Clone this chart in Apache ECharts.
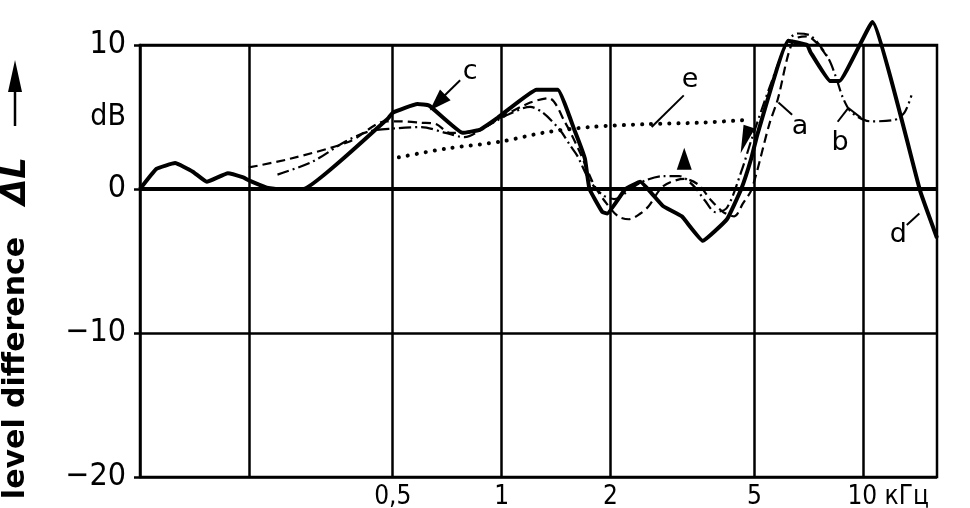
<!DOCTYPE html>
<html>
<head>
<meta charset="utf-8">
<script src="https://cdn.jsdelivr.net/npm/echarts@6/dist/echarts.min.js"></script>
<style>
  html, body { margin: 0; padding: 0; background: #fff; }
  #chart { width: 970px; height: 508px; }
</style>
</head>
<body>
<div id="chart"></div>
<script>
// frequency in kHz, level difference in dB
const curveC = [
  [0.1, 0], [0.111, 1.4], [0.125, 1.8], [0.14, 1.2], [0.153, 0.5], [0.175, 1.1],
  [0.193, 0.8], [0.2, 0.6], [0.224, 0.1], [0.24, 0], [0.283, 0], [0.485, 4.9],
  [0.5, 5.3], [0.585, 5.9], [0.63, 5.8], [0.78, 3.9], [0.87, 4.1], [0.97, 4.9],
  [1.25, 6.9], [1.43, 6.9], [1.59, 4.1], [1.7, 2.1], [1.75, 0], [1.9, -1.6],
  [1.96, -1.7], [2.2, 0], [2.42, 0.5], [2.6, -0.3], [2.8, -1.2], [3.15, -1.9],
  [3.6, -3.6], [4.2, -2.1], [4.6, 0], [4.9, 2.1], [5.1, 3.8], [6.2, 10.3],
  [7.0, 10], [7.15, 9.5], [8.1, 7.5], [8.6, 7.5], [10.6, 11.6], [14.4, -0.2], [16, -3.4]
];
const curveA = [
  [0.2, 1.5], [0.26, 2.1], [0.38, 3.3], [0.48, 4.7], [0.52, 4.7], [0.6, 4.6],
  [0.66, 4.5], [0.72, 3.9], [0.8, 3.9], [0.9, 4.3], [1.0, 5.0], [1.2, 6.0],
  [1.35, 6.3], [1.5, 4.6], [1.65, 2.5], [1.8, 0.3], [1.95, -1.0], [2.1, -1.9],
  [2.25, -2.1], [2.42, -1.7], [2.55, -1.2], [2.8, 0.2], [3.2, 0.7], [3.5, 0.3],
  [3.8, -0.8], [4.1, -1.6], [4.4, -1.9], [4.65, -1.0], [4.92, 0], [5.5, 4.5],
  [5.8, 6.2], [6.4, 10.3], [7.0, 10.6], [7.4, 10.2], [8.0, 9.1]
];
const curveB = [
  [0.24, 1.0], [0.3, 1.9], [0.37, 3.3], [0.43, 4.0], [0.5, 4.2], [0.6, 4.3],
  [0.7, 3.9], [0.79, 3.6], [0.9, 4.3], [1.05, 5.2], [1.2, 5.7], [1.3, 5.3],
  [1.45, 4.1], [1.55, 3.0], [1.62, 2.3], [1.75, 0.6], [1.9, -0.4], [2.05, -0.7],
  [2.3, 0.1], [2.5, 0.6], [2.8, 0.9], [3.1, 0.9], [3.4, 0.2], [3.65, -0.8],
  [3.9, -1.6], [4.2, -1.3], [4.6, 1.2], [4.92, 3.5], [5.5, 7.0], [6.2, 10.3],
  [6.6, 10.8], [7.2, 10.6], [8.0, 9.1], [8.4, 7.8], [8.8, 6.3], [9.3, 5.3],
  [10.5, 4.7], [12.2, 4.8], [13.0, 5.3], [13.6, 6.5]
];
const curveE = [
  [0.52, 2.2], [0.7, 2.8], [1.0, 3.3], [1.3, 3.9], [1.75, 4.3], [2.5, 4.5],
  [3.5, 4.6], [4.8, 4.8]
];

const gridFreqs = [0.2, 0.5, 1, 2, 5, 10];
const labelFreqs = [0.5, 1, 2, 5, 10];

// curve letters and their leader lines (in data coords)
const letterNames = ["c", "e", "a", "b", "d"];
const letterCoords = [[0.818, 8.1], [3.32, 7.6], [6.69, 4.3], [8.63, 3.2], [12.5, -3.2]];
const leaderLines = [
  [[0.768, 7.55], [0.67, 6.1]],
  [[3.19, 6.5], [2.6, 4.3]],
  [[6.36, 5.15], [5.83, 6.0]],
  [[8.5, 4.67], [9.1, 5.63]],
  [[9.1, 5.63], [9.86, 4.94]],
  [[13.2, -2.5], [14.3, -1.7]]
];
const arrowHeads = [
  { coord: [0.665, 6.0], rotate: 135, size: [15, 22] },
  { coord: [3.2, 2.1], rotate: 0, size: [15, 22] },
  { coord: [4.71, 3.4], rotate: 162, size: [12, 28] }
];

const chart = echarts.init(document.getElementById("chart"));
const FONT = "'DejaVu Sans Condensed', 'DejaVu Sans', sans-serif";

const markPoints = letterNames.map((n, i) => ({
  name: n,
  coord: letterCoords[i],
  symbol: "circle",
  symbolSize: 1,
  itemStyle: { color: "rgba(0,0,0,0)" },
  label: { show: true, formatter: "{b}", color: "#000", fontSize: 27, fontFamily: "'DejaVu Sans', sans-serif" }
})).concat(arrowHeads.map((h) => ({
  coord: h.coord,
  symbol: "triangle",
  symbolSize: h.size,
  symbolRotate: h.rotate,
  itemStyle: { color: "#000" },
  label: { show: false }
})));

const markLines = [{ yAxis: 0, lineStyle: { width: 4 } }].concat(
  leaderLines.map((l) => [{ coord: l[0] }, { coord: l[1] }])
);

const option = {
  animation: false,
  grid: {
    left: 140, right: 33, top: 45, bottom: 31,
    outerBoundsMode: "none",
    containLabel: false,
    show: true, borderColor: "#000", borderWidth: 2.5
  },
  xAxis: {
    type: "log",
    logBase: 10,
    min: 0.1,
    max: 16,
    axisLine: { show: false },
    axisTick: { show: false, customValues: gridFreqs },
    axisLabel: {
      customValues: labelFreqs,
      color: "#000",
      fontSize: 26,
      fontFamily: FONT,
      margin: 7,
      formatter: function (v) {
        if (v === 0.5) return "0,5";
        if (v === 10) return "{sp| }10 кГц";
        return String(v);
      },
      rich: { sp: { width: 50 } }
    },
    splitLine: { show: true, lineStyle: { color: "#000", width: 2.5 } }
  },
  yAxis: [
    {
      type: "value",
      position: "left",
      min: -20,
      max: 10,
      interval: 10,
      axisLine: { show: true, lineStyle: { color: "#000", width: 2.5 } },
      axisTick: { show: true, length: 6, lineStyle: { color: "#000", width: 2.5 } },
      axisLabel: {
        color: "#000",
        fontSize: 32,
        fontFamily: FONT,
        margin: 14,
        formatter: (v) => String(v).replace("-", "−")
      },
      splitLine: { show: true, lineStyle: { color: "#000", width: 2.5 } }
    },
    {
      type: "value",
      position: "left",
      offset: 0,
      min: -20,
      max: 10,
      interval: 5,
      axisLine: { show: false },
      axisTick: { show: false },
      splitLine: { show: false },
      axisLabel: {
        color: "#000",
        fontSize: 30,
        fontFamily: FONT,
        margin: 14,
        formatter: (v) => (v === 5 ? "dB" : "")
      }
    }
  ],
  graphic: [
    {
      type: "text",
      x: 16, y: 368, rotation: Math.PI / 2,
      style: {
        text: "level difference",
        font: "bold 30px 'DejaVu Sans', sans-serif",
        fill: "#000", align: "center", verticalAlign: "middle"
      }
    },
    {
      type: "text",
      x: 16, y: 181, rotation: Math.PI / 2,
      style: {
        text: "ΔL",
        font: "italic bold 34px 'DejaVu Sans', sans-serif",
        fill: "#000", align: "center", verticalAlign: "middle"
      }
    },
    {
      type: "line",
      shape: { x1: 15, y1: 126, x2: 15, y2: 85 },
      style: { stroke: "#000", lineWidth: 2.5 }
    },
    {
      type: "polygon",
      shape: { points: [[8, 92], [22, 92], [15, 60]] },
      style: { fill: "#000" }
    }
  ],
  series: [
    {
      name: "e",
      type: "line",
      data: curveE,
      showSymbol: false,
      clip: false,
      smooth: 0.3,
      lineStyle: { color: "#000", width: 4, type: [0.1, 9], cap: "round" }
    },
    {
      name: "a",
      type: "line",
      data: curveA,
      showSymbol: false,
      clip: false,
      smooth: 0.3,
      lineStyle: { color: "#000", width: 2.2, type: [9, 5] }
    },
    {
      name: "b",
      type: "line",
      data: curveB,
      showSymbol: false,
      clip: false,
      smooth: 0.3,
      lineStyle: { color: "#000", width: 2.2, type: [12, 4, 2, 4] }
    },
    {
      name: "c",
      type: "line",
      data: curveC,
      showSymbol: false,
      clip: false,
      smooth: 0.1,
      lineStyle: { color: "#000", width: 4 },
      markLine: {
        silent: true,
        symbol: ["none", "none"],
        label: { show: false },
        lineStyle: { color: "#000", width: 2, type: "solid" },
        data: markLines
      },
      markPoint: {
        silent: true,
        data: markPoints
      }
    }
  ]
};
chart.setOption(option);
</script>
</body>
</html>
